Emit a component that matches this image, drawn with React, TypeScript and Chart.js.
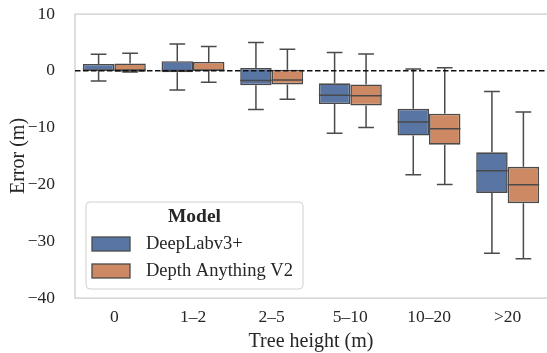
import React, { useEffect, useRef } from "react";
import { Chart, registerables } from "chart.js";

Chart.register(...registerables);

const categories = ["0", "1–2", "2–5", "5–10", "10–20", ">20"];
const seriesNames = ["DeepLabv3+", "Depth Anything V2"];
const legendTitle = "Model";
const yTicks = [10, 0, -10, -20, -30, -40];

// DeepLabv3+
const dlLow = [-1.8, -3.4, -6.8, -11.0, -18.3, -32.1];
const dlQ1 = [0.0, -0.25, -2.55, -5.85, -11.4, -21.5];
const dlMed = [0.1, 0.05, -1.7, -4.3, -9.0, -17.6];
const dlQ3 = [1.2, 1.7, 0.5, -2.2, -6.7, -14.35];
const dlHigh = [2.9, 4.7, 5.0, 3.2, 0.3, -3.65];

// Depth Anything V2
const daLow = [-0.2, -2.0, -5.0, -10.0, -20.0, -33.1];
const daQ1 = [-0.15, 0.0, -2.4, -6.1, -13.0, -23.3];
const daMed = [0.15, 0.1, -1.6, -4.4, -10.2, -20.05];
const daQ3 = [1.3, 1.55, 0.2, -2.4, -7.55, -16.9];
const daHigh = [3.1, 4.3, 3.8, 2.95, 0.55, -7.25];

const colors = ["#5975a4", "#cc8963"];
const lineColor = "#4a4a4a";
const textColor = "#262626";
const FONT = "'Liberation Serif', 'Times New Roman', serif";

const stats = [
  { low: dlLow, q1: dlQ1, med: dlMed, q3: dlQ3, high: dlHigh },
  { low: daLow, q1: daQ1, med: daMed, q3: daQ3, high: daHigh },
];

const boxPlugin = {
  id: "boxExtras",
  beforeDatasetsDraw(chart: any) {
    const { ctx, chartArea: a } = chart;
    ctx.save();
    ctx.strokeStyle = "#cccccc";
    ctx.lineWidth = 1.25;
    ctx.beginPath();
    ctx.moveTo(a.right, a.top);
    ctx.lineTo(a.left, a.top);
    ctx.lineTo(a.left, a.bottom);
    ctx.lineTo(a.right, a.bottom);
    ctx.stroke();
    ctx.restore();
  },
  afterDatasetsDraw(chart: any) {
    const { ctx, chartArea: a } = chart;
    const ys = chart.scales.y;
    ctx.save();
    ctx.strokeStyle = lineColor;
    ctx.lineWidth = 1.5;
    stats.forEach((s, i) => {
      const meta = chart.getDatasetMeta(i);
      meta.data.forEach((el: any, j: number) => {
        const { x, width } = el.getProps(["x", "width"], true);
        const yLo = ys.getPixelForValue(s.low[j]);
        const yQ1 = ys.getPixelForValue(s.q1[j]);
        const yMed = ys.getPixelForValue(s.med[j]);
        const yQ3 = ys.getPixelForValue(s.q3[j]);
        const yHi = ys.getPixelForValue(s.high[j]);
        const cap = width / 4;
        ctx.beginPath();
        ctx.moveTo(x, yQ3);
        ctx.lineTo(x, yHi);
        ctx.moveTo(x - cap, yHi);
        ctx.lineTo(x + cap, yHi);
        ctx.moveTo(x, yQ1);
        ctx.lineTo(x, yLo);
        ctx.moveTo(x - cap, yLo);
        ctx.lineTo(x + cap, yLo);
        ctx.moveTo(x - width / 2, yMed);
        ctx.lineTo(x + width / 2, yMed);
        ctx.stroke();
      });
    });
    // zero reference line
    const y0 = ys.getPixelForValue(0);
    ctx.strokeStyle = "#111111";
    ctx.lineWidth = 1.4;
    ctx.setLineDash([5.5, 2.5]);
    ctx.beginPath();
    ctx.moveTo(a.left, y0);
    ctx.lineTo(a.right, y0);
    ctx.stroke();
    ctx.restore();
  },
  afterDraw(chart: any) {
    const { ctx } = chart;
    const lx = 86, ly = 202, lw = 217, lh = 87;
    ctx.save();
    ctx.beginPath();
    ctx.roundRect(lx, ly, lw, lh, 4);
    ctx.fillStyle = "rgba(255,255,255,0.8)";
    ctx.fill();
    ctx.strokeStyle = "#d0d0d0";
    ctx.lineWidth = 1;
    ctx.stroke();
    ctx.fillStyle = textColor;
    ctx.textBaseline = "middle";
    ctx.textAlign = "center";
    ctx.font = `bold 19.5px ${FONT}`;
    ctx.fillText(legendTitle, lx + lw / 2, ly + 15);
    ctx.textAlign = "left";
    ctx.font = `18.5px ${FONT}`;
    seriesNames.forEach((name, i) => {
      const sy = ly + 35 + i * 27;
      ctx.fillStyle = colors[i];
      ctx.fillRect(lx + 6, sy, 38, 14);
      ctx.strokeStyle = lineColor;
      ctx.lineWidth = 1.3;
      ctx.strokeRect(lx + 6, sy, 38, 14);
      ctx.fillStyle = textColor;
      ctx.fillText(name, lx + 60, sy + 7.5);
    });
    ctx.restore();
  },
};

export default function App() {
  const ref = useRef<HTMLCanvasElement>(null);
  useEffect(() => {
    document.body.style.margin = "0";
    let chart: Chart | null = null;
    let cancelled = false;
    const make = () => {
      if (cancelled || !ref.current) return;
      chart = new Chart(ref.current, {
        type: "bar",
        data: {
          labels: categories,
          datasets: stats.map((s, i) => ({
            label: seriesNames[i],
            data: s.q1.map((v, j) => [v, s.q3[j]]),
            backgroundColor: colors[i],
            borderColor: lineColor,
            borderWidth: 1.6,
            borderSkipped: false,
            categoryPercentage: 0.8,
            barPercentage: 1.0,
          })) as any,
        },
        options: {
          animation: false,
          responsive: true,
          maintainAspectRatio: false,
          layout: { padding: { top: 14, right: 0, left: 0, bottom: 0 } },
          plugins: { legend: { display: false }, tooltip: { enabled: false } },
          scales: {
            x: {
              grid: { display: false },
              border: { display: false },
              ticks: { color: textColor, font: { family: FONT, size: 17.5 }, padding: 1 },
              title: {
                display: true,
                text: "Tree height (m)",
                color: textColor,
                font: { family: FONT, size: 20 },
                padding: { top: 0, bottom: -1 },
              },
              afterFit: (s: any) => {
                s.height = 55;
                s.paddingLeft = 0;
                s.paddingRight = 0;
              },
            },
            y: {
              min: -40,
              max: 10,
              grid: { display: false },
              border: { display: false },
              afterBuildTicks: (s: any) => {
                s.ticks = yTicks.map((v) => ({ value: v }));
              },
              ticks: {
                color: textColor,
                font: { family: FONT, size: 17.5 },
                padding: 12,
                callback: (v: any) => (v < 0 ? "\u2212" + Math.abs(v) : String(v)),
              },
              title: {
                display: true,
                text: "Error (m)",
                color: textColor,
                font: { family: FONT, size: 20 },
                padding: { top: 7, bottom: 0 },
              },
              afterFit: (s: any) => {
                s.width = 75;
                s.paddingTop = 0;
                s.paddingBottom = 0;
              },
            },
          },
        },
        plugins: [boxPlugin],
      });
    };
    const fonts = (document as any).fonts;
    if (fonts && fonts.load) {
      Promise.all([
        fonts.load(`17px 'Liberation Serif'`),
        fonts.load(`bold 17px 'Liberation Serif'`),
      ])
        .catch(() => {})
        .then(make);
    } else {
      make();
    }
    return () => {
      cancelled = true;
      if (chart) chart.destroy();
    };
  }, []);
  return (
    <div style={{ position: "fixed", left: 0, top: 0, width: 547, height: 353 }}>
      <canvas ref={ref} />
    </div>
  );
}
